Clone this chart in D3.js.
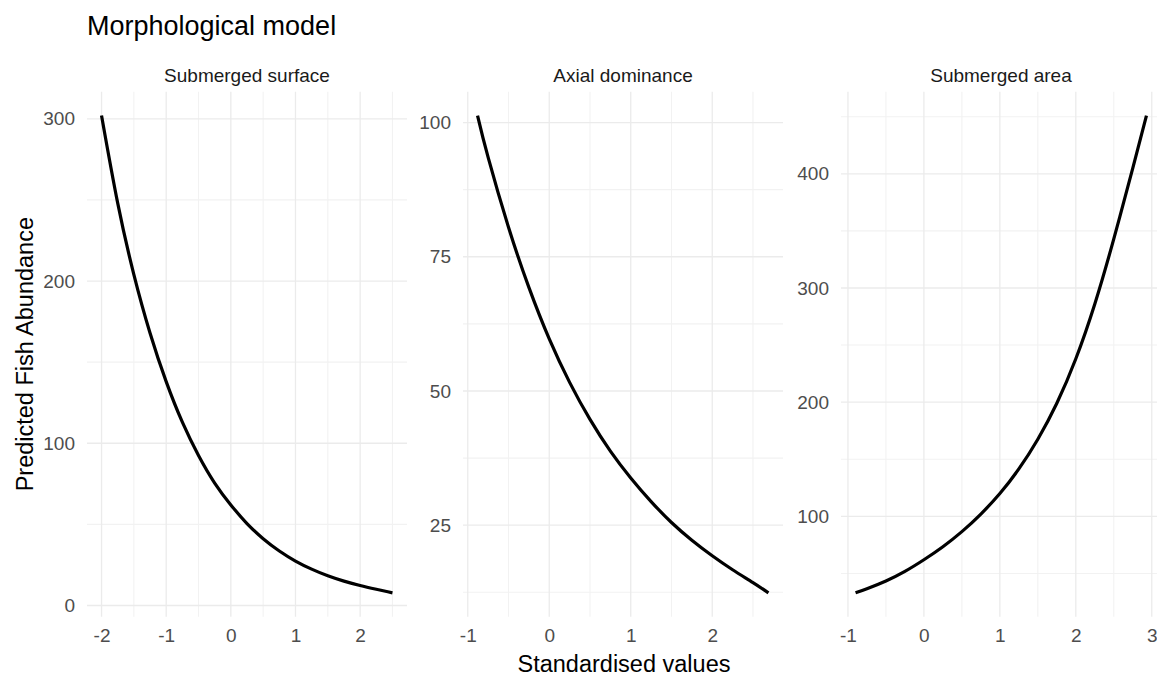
<!DOCTYPE html>
<html>
<head>
<meta charset="utf-8">
<script src="https://cdn.jsdelivr.net/npm/d3@7"></script>
<style>
	body { margin: 0; background: #fff; overflow: hidden; }
	svg { display: block; font-family: "Liberation Sans", Arial, sans-serif; }
</style>
</head>
<body>
<svg></svg>
<script>
const width = 1157;
const height = 677;

// facet names
const facets = ['Submerged surface', 'Axial dominance', 'Submerged area'];

// predicted curves
const xSurface = [-2, -1.75, -1.5, -1.25, -1, -0.75, -0.5, -0.25, 0, 0.25, 0.5, 0.75, 1, 1.25, 1.5, 1.75, 2, 2.25, 2.5];
const ySurface = [302, 248, 204, 168, 138, 113, 92.5, 75.5, 62, 50.5, 41.2, 33.6, 27.4, 22.4, 18.3, 15, 12.3, 10, 7.8];

const xAxial = [-0.88, -0.75, -0.5, -0.25, 0, 0.25, 0.5, 0.75, 1, 1.25, 1.5, 1.75, 2, 2.25, 2.5, 2.69];
const yAxial = [101.3, 93.5, 80.5, 69.3, 59.7, 51.6, 44.7, 38.8, 33.8, 29.4, 25.5, 22.2, 19.3, 16.7, 14.3, 12.4];

const xArea = [-0.9, -0.75, -0.5, -0.25, 0, 0.25, 0.5, 0.75, 1, 1.25, 1.5, 1.75, 2, 2.25, 2.5, 2.75, 2.93];
const yArea = [33, 36.6, 43.4, 51.8, 62, 73.4, 86.6, 102, 120, 141.5, 167.5, 199, 238, 286, 343, 405, 451];

// tick labels per facet
const xTicks = [[-2, -1, 0, 1, 2], [-1, 0, 1, 2], [-1, 0, 1, 2, 3]];
const yTicks = [[0, 100, 200, 300], [25, 50, 75, 100], [100, 200, 300, 400]];

const xs = [xSurface, xAxial, xArea];
const ys = [ySurface, yAxial, yArea];

// layout
const panelTop = 91.7;
const panelBottom = 616.7;
const panelW = 320;
const panelLefts = [87, 463, 841];

const svg = d3.select('svg').attr('width', width).attr('height', height);
svg.append('rect').attr('width', width).attr('height', height).attr('fill', '#fff');

// ggplot style 5% expansion
function expand(ext){
	var r = ext[1] - ext[0];
	return [ext[0] - 0.05*r, ext[1] + 0.05*r];
}

// minor breaks half way between majors, one step beyond too
function minors(ticks, domain){
	var step = ticks[1] - ticks[0];
	var out = [];
	for(var i = -1; i < ticks.length; i++){
		var v = ticks[0] + step*(i + 0.5);
		if(v >= domain[0] && v <= domain[1]) out.push(v);
	}
	return out;
}

facets.forEach(function(name, k){
	var x0 = panelLefts[k];
	var data = xs[k].map((d, i) => ({x: d, y: ys[k][i]}));

	var xScale = d3.scaleLinear()
	.domain(expand(d3.extent(xs[k])))
	.range([x0, x0 + panelW]);

	var yScale = d3.scaleLinear()
	.domain(expand(d3.extent(ys[k])))
	.range([panelBottom, panelTop]);

	var g = svg.append('g');

	// minor grid
	g.selectAll('line.hminor')
	.data(minors(yTicks[k], yScale.domain())).enter().append('line')
	.attr('x1', x0).attr('x2', x0 + panelW)
	.attr('y1', d => yScale(d)).attr('y2', d => yScale(d))
	.attr('stroke', '#f2f2f2').attr('stroke-width', 1.1);

	g.selectAll('line.vminor')
	.data(minors(xTicks[k], xScale.domain())).enter().append('line')
	.attr('x1', d => xScale(d)).attr('x2', d => xScale(d))
	.attr('y1', panelTop).attr('y2', panelBottom)
	.attr('stroke', '#f2f2f2').attr('stroke-width', 1.1);

	// major grid
	g.selectAll('line.hmajor')
	.data(yTicks[k]).enter().append('line')
	.attr('x1', x0).attr('x2', x0 + panelW)
	.attr('y1', d => yScale(d)).attr('y2', d => yScale(d))
	.attr('stroke', '#ebebeb').attr('stroke-width', 1.3);

	g.selectAll('line.vmajor')
	.data(xTicks[k]).enter().append('line')
	.attr('x1', d => xScale(d)).attr('x2', d => xScale(d))
	.attr('y1', panelTop).attr('y2', panelBottom)
	.attr('stroke', '#ebebeb').attr('stroke-width', 1.3);

	// axes (no domain line, no ticks)
	var yAxis = g.append('g')
	.attr('transform', 'translate(' + x0 + ',0)')
	.call(d3.axisLeft(yScale).tickValues(yTicks[k]).tickSize(0).tickPadding(12));

	var xAxis = g.append('g')
	.attr('transform', 'translate(0,' + panelBottom + ')')
	.call(d3.axisBottom(xScale).tickValues(xTicks[k]).tickSize(0).tickPadding(12)
		.tickFormat(d3.format('d')));

	[yAxis, xAxis].forEach(function(a){
		a.select('.domain').remove();
		a.selectAll('text')
		.attr('fill', '#4d4d4d')
		.style('font-size', '19px')
		.style('font-family', '"Liberation Sans", Arial, sans-serif');
	});
	xAxis.selectAll('text').text(d => d < 0 ? '-' + Math.abs(d) : d);

	// curve
	g.append('path')
	.datum(data)
	.attr('fill', 'none')
	.attr('stroke', '#000')
	.attr('stroke-width', 3.2)
	.attr('stroke-linejoin', 'round')
	.attr('d', d3.line().x(d => xScale(d.x)).y(d => yScale(d.y)).curve(d3.curveNatural));

	// strip label
	svg.append('text')
	.attr('x', x0 + panelW/2).attr('y', 81.5)
	.attr('text-anchor', 'middle')
	.attr('fill', '#1a1a1a')
	.style('font-size', '19px')
	.text(name);
});

// titles
svg.append('text')
.attr('x', 87).attr('y', 35)
.attr('fill', '#000')
.style('font-size', '27px')
.text('Morphological model');

svg.append('text')
.attr('x', (panelLefts[0] + panelLefts[2] + panelW)/2).attr('y', 672)
.attr('text-anchor', 'middle')
.attr('fill', '#000')
.style('font-size', '23.5px')
.text('Standardised values');

svg.append('text')
.attr('transform', 'translate(33,' + (panelTop + panelBottom)/2 + ') rotate(-90)')
.attr('text-anchor', 'middle')
.attr('fill', '#000')
.style('font-size', '23.5px')
.text('Predicted Fish Abundance');
</script>
</body>
</html>
